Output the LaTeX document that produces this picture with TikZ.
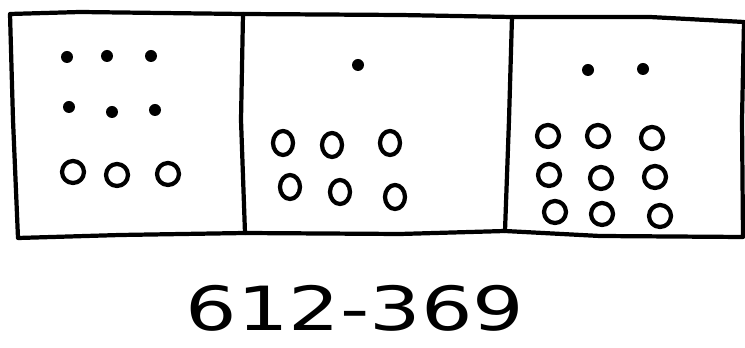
\documentclass[tikz,border=0pt]{standalone}
\usepackage{fontspec}
\newfontfamily\handfont{DejaVu Sans}
\begin{document}
\begin{tikzpicture}[x=0.03cm, y=-0.03cm, line join=round, line cap=round]
\def\lw{3.6pt}
\def\rr{11}
\useasboundingbox (0,0) rectangle (745,348);
% Ecken des Rahmens
\coordinate (TL) at (10,14);
\coordinate (TR) at (744,22);
\coordinate (BR) at (743,237);
\coordinate (BL) at (18,238);
% Trennlinien
\coordinate (T1) at (243,14);
\coordinate (B1) at (245,233);
\coordinate (T2) at (512,17);
\coordinate (B2) at (505,231);
% Rahmen
\draw[line width=\lw] (TL) -- (80,12) -- (T1) -- (400,15) -- (T2) -- (650,17) -- (TR)
  -- (742,120) -- (BR) -- (600,236) -- (B2) -- (400,234) -- (B1) -- (120,235) -- (BL) -- (13,120) -- cycle;
\draw[line width=\lw] (T1) -- (241,120) -- (B1);
\draw[line width=\lw] (T2) -- (509,120) -- (B2);
% Feld 1: Punkte
\foreach \p in {(67,57),(107,56),(151,56),(69,107),(112,112),(155,110)}
  \fill \p circle (6);
% Feld 1: Kreise
\foreach \p in {(73,172),(117,175),(168,174)}
  \draw[line width=\lw] \p circle (\rr);
% Feld 2: Punkt
\fill (358,65) circle (6);
% Feld 2: Kreise
\foreach \p in {(283,143),(332,145),(390,143),(290,187),(340,192),(395,197)}
  \draw[line width=\lw] \p ellipse (10 and 12);
% Feld 3: Punkte
\fill (588,70) circle (6);
\fill (643,69) circle (6);
% Feld 3: Kreise
\foreach \p in {(548,136),(598,136),(652,138),(549,175),(601,178),(655,177),(555,212),(602,214),(660,216)}
  \draw[line width=\lw] \p ellipse (11 and 11);
% Rechnung
\node[font=\handfont\fontsize{52}{56}\selectfont, xscale=1.33] (expr) at (355,308) {612-369};
\end{tikzpicture}
\end{document}
